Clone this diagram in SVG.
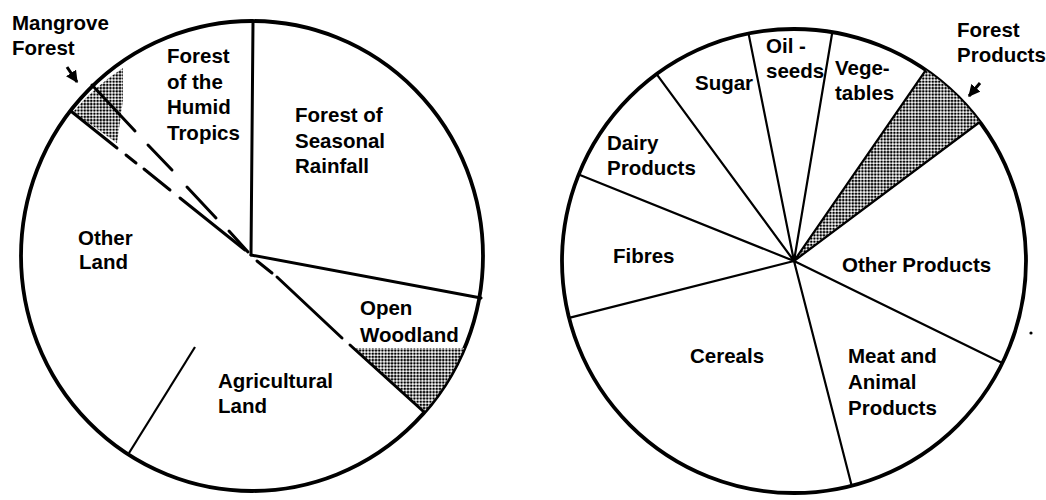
<svg xmlns="http://www.w3.org/2000/svg" width="1046" height="500" viewBox="0 0 1046 500">
<defs>
<pattern id="dots" width="3.2" height="3.2" patternUnits="userSpaceOnUse">
<rect width="3.2" height="3.2" fill="#fff"/>
<circle cx="1.6" cy="1.6" r="1.3" fill="#000"/>
</pattern>
<marker id="tip" viewBox="0 0 10 10" refX="9" refY="5" markerWidth="4" markerHeight="4" orient="auto">
<path d="M0,0 L10,5 L0,10 Z" fill="#000"/>
</marker>
<style>
.rim{fill:#fff;stroke:#000;stroke-width:3.8}
.sp{stroke:#000;stroke-width:3;fill:none;stroke-linecap:round}
.sp2{stroke:#000;stroke-width:2.2;fill:none}
.hat{fill:url(#dots);stroke:none}
.lbl{font-family:"Liberation Sans",Arial,Helvetica,sans-serif;font-weight:bold;font-size:20.5px;fill:#000}
.arr{stroke:#000;stroke-width:3;fill:none;marker-end:url(#tip)}
</style>
</defs>
<rect width="1046" height="500" fill="#fff"/>

<g id="pie-land">
<ellipse class="rim" cx="252" cy="256" rx="231" ry="235"/>
</g>
<g id="slice-mangrove">
<path class="hat" d="M73,112 L117,143 L123,100 L123,68 A231 235 0 0 0 73,112 Z"/>
<text class="lbl" x="12" y="30">Mangrove</text>
<text class="lbl" x="12" y="55">Forest</text>
</g>
<g id="slice-humid">
<text class="lbl" x="167" y="63">Forest</text>
<text class="lbl" x="167" y="89">of the</text>
<text class="lbl" x="167" y="114">Humid</text>
<text class="lbl" x="167" y="140">Tropics</text>
</g>
<g id="slice-seasonal">
<text class="lbl" x="295" y="122">Forest of</text>
<text class="lbl" x="295" y="148">Seasonal</text>
<text class="lbl" x="295" y="173">Rainfall</text>
</g>
<g id="slice-woodland">
<path class="hat" d="M352,348 L464,348 A231 235 0 0 1 424,412 Z"/>
<text class="lbl" x="360" y="315">Open</text>
<text class="lbl" x="360" y="342">Woodland</text>
</g>
<g id="slice-agri">
<text class="lbl" x="218" y="388">Agricultural</text>
<text class="lbl" x="218" y="413">Land</text>
</g>
<g id="slice-other-land">
<text class="lbl" x="78" y="245">Other</text>
<text class="lbl" x="79" y="269">Land</text>
</g>

<g id="pie-products">
<circle class="rim" cx="794" cy="261" r="232"/>
</g>
<g id="slice-forest-products">
<path class="hat" d="M794,261 L925.8,70.1 A232 232 0 0 1 979.8,122 Z"/>
<text class="lbl" x="957" y="37">Forest</text>
<text class="lbl" x="957" y="62">Products</text>
</g>
<g id="slice-sugar"><text class="lbl" x="695" y="90">Sugar</text></g>
<g id="slice-oilseeds">
<text class="lbl" x="766" y="53">Oil -</text>
<text class="lbl" x="766" y="78">seeds</text>
</g>
<g id="slice-vegetables">
<text class="lbl" x="835" y="75">Vege-</text>
<text class="lbl" x="835" y="100">tables</text>
</g>
<g id="slice-dairy">
<text class="lbl" x="607" y="150">Dairy</text>
<text class="lbl" x="607" y="175">Products</text>
</g>
<g id="slice-fibres"><text class="lbl" x="613" y="263">Fibres</text></g>
<g id="slice-cereals"><text class="lbl" x="690" y="363">Cereals</text></g>
<g id="slice-other-products"><text class="lbl" x="842" y="272">Other Products</text></g>
<g id="slice-meat">
<text class="lbl" x="848" y="363">Meat and</text>
<text class="lbl" x="848" y="389">Animal</text>
<text class="lbl" x="848" y="415">Products</text>
</g>

<g id="connectors">
<path class="sp" d="M253,22 L251,255"/>
<path class="sp" d="M251,255 L481,298"/>
<path class="sp" d="M257,261 L272,273 M277,277 L342,338 M350,345 L424,412"/>
<path class="sp" d="M92,85 L135,131 M148,145 L172,170 M187,187 L216,218 M229,231 L248,252"/>
<path class="sp" d="M72,112 L117,148 M126,155 L136,163 M144,169 L170,190 M180,198 L245,250"/>
<path class="sp2" d="M195,347 L129,453"/>
<path class="sp2" d="M794,261 L748.5,33.4 M794,261 L832.3,32.2 M794,261 L925.8,70.1 M794,261 L979.8,122 M794,261 L1002.3,363.1 M794,261 L851.7,485.8 M794,261 L569.1,317.9 M794,261 L578.7,174.5 M794,261 L656.6,74.1"/>
<path class="arr" d="M67,67 L77,82"/>
<path class="arr" d="M980,83 L969,96"/>
<circle cx="1031" cy="333" r="1.6" fill="#000"/>
</g>
</svg>
